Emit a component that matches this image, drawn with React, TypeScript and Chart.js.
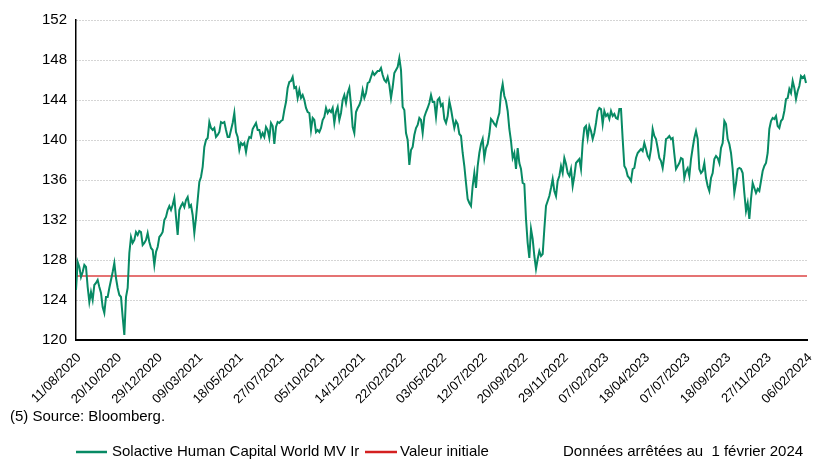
import React, { useEffect, useRef } from "react";
import { Chart, registerables } from "chart.js";

Chart.register(...registerables);

// X-axis tick labels (one every 50 trading days)
const tickDates = [
  "11/08/2020", "20/10/2020", "29/12/2020", "09/03/2021", "18/05/2021",
  "27/07/2021", "05/10/2021", "14/12/2021", "22/02/2022", "03/05/2022",
  "12/07/2022", "20/09/2022", "29/11/2022", "07/02/2023", "18/04/2023",
  "07/07/2023", "18/09/2023", "27/11/2023", "06/02/2024",
];
const TICK_INTERVAL = 50; // trading days between labels
const SAMPLE_STEP = 2.052; // trading days between the sampled values below

const yTicks = { min: 120, max: 152, step: 4 };
const INITIAL_VALUE = 126.4;

// Index level, sampled regularly along the axis
const values2020 = [
  125.0, 127.8, 127.3, 126.3, 126.8, 127.5, 127.3, 125.3, 123.8, 124.8,
  124.0, 125.5, 125.7, 126.0, 125.3, 124.7, 123.3, 122.7, 124.3, 124.3,
  125.2, 126.0, 126.8, 127.7, 126.2, 125.2, 124.5, 124.3, 122.3, 120.5,
  124.3, 125.2, 128.7, 130.3, 129.7, 130.0, 130.8, 130.5, 130.9, 130.8,
  129.5, 129.7, 130.0, 130.7, 129.8, 129.2, 129.0, 127.5, 128.8, 129.3,
  130.3, 130.5, 130.8, 132.0, 132.3, 133.0, 133.4, 133.0, 133.5, 134.2,
  132.3, 130.5, 133.0, 133.4, 133.7, 133.3, 134.0, 134.3, 133.3, 133.5,
  132.5, 130.7, 132.2,
];
const values2021a = [
  134.0, 135.8, 136.3, 137.3, 139.3, 140.0, 140.2, 141.8, 141.2, 141.0,
  141.2, 140.3, 140.5, 140.8, 141.8, 141.7, 141.8, 141.0, 140.3, 140.3,
  141.0, 141.7, 142.7, 140.8, 140.3, 139.0, 139.7, 139.5, 139.7, 138.8,
  139.8, 140.3, 140.2, 141.1, 141.4, 141.7, 141.0, 141.0, 140.3, 140.7,
  140.3, 141.3, 141.0, 140.2, 141.7, 141.4, 139.6, 141.3, 141.8, 141.7,
  141.9, 142.0, 143.0, 143.8, 145.2, 145.8, 145.9, 146.3, 145.2, 145.3,
  144.2, 145.0, 144.2, 144.5, 144.0, 143.2, 142.8, 142.7, 141.0, 142.2,
  142.0, 140.8, 141.0,
];
const values2021b = [
  140.8, 141.2, 142.0, 142.3, 143.2, 142.7, 143.0, 142.8, 143.2, 141.7,
  142.8, 143.3, 142.0, 142.7, 144.0, 144.5, 143.7, 144.7, 145.2, 143.5,
  141.3, 140.7, 142.8, 143.2, 143.5, 144.0, 145.0, 144.2, 144.7, 145.7,
  145.8, 146.3, 146.8, 146.5, 146.7, 146.9, 146.9, 147.2, 146.5, 146.0,
  145.8, 146.3, 145.5, 144.2, 145.3, 146.7, 147.0, 147.3, 148.2, 147.0,
  143.3, 143.0, 140.7, 140.0, 137.5, 139.0, 139.3, 140.5, 141.2, 141.5,
  142.2, 142.0, 140.7, 142.3, 142.8, 143.2, 143.7, 144.5, 143.8, 143.8,
  142.3, 144.0, 144.2,
];
const values2022 = [
  143.4, 143.6, 142.1, 141.7, 142.4, 143.9, 143.1, 142.1, 141.2, 141.9,
  141.6, 140.6, 140.4, 138.7, 137.4, 135.7, 134.1, 133.7, 133.4, 135.4,
  136.7, 135.2, 137.4, 138.7, 139.6, 140.1, 138.2, 139.2, 139.6, 140.6,
  142.1, 141.9, 141.6, 141.4, 142.1, 142.7, 144.7, 145.6, 144.4, 143.9,
  142.9, 141.1, 139.9, 138.2, 138.7, 137.1, 139.2, 137.7, 137.1, 135.7,
  135.6, 132.1, 129.7, 128.2, 131.1, 130.1, 128.4, 127.1, 128.1, 128.9,
  128.4, 128.6, 131.1, 133.4, 133.9, 134.4, 135.2, 136.1, 134.9, 134.4,
  135.9, 136.4, 137.4,
];
const values2023a = [
  136.7, 138.2, 137.6, 136.7, 136.4, 137.1, 135.4, 136.4, 137.7, 137.9,
  138.1, 137.1, 139.7, 141.2, 141.4, 140.2, 141.4, 140.9, 140.1, 140.7,
  141.7, 142.9, 143.2, 143.1, 141.6, 142.9, 142.4, 142.6, 142.1, 142.9,
  142.4, 142.6, 142.2, 142.1, 143.1, 143.1, 140.1, 137.4, 137.1, 136.4,
  136.2, 135.9, 137.1, 137.2, 138.2, 138.7, 138.9, 139.1, 138.9, 139.7,
  139.1, 138.4, 138.1, 139.1, 141.1, 140.4, 140.1, 139.2, 138.2, 137.9,
  137.2, 138.4, 140.1, 140.2, 140.4, 140.1, 140.2, 138.6, 137.1, 137.4,
  137.7, 138.2, 138.1, 136.2,
];
const values2023b = [
  136.9, 137.2, 136.4, 138.1, 139.2, 140.2, 140.9, 140.1, 137.1, 136.7,
  136.9, 137.7, 136.2, 135.4, 134.9, 136.2, 136.7, 138.1, 138.4, 138.2,
  137.7, 139.2, 139.7, 141.9, 141.6, 140.1, 139.6, 138.7, 137.1, 134.7,
  135.7, 137.1, 137.2, 137.1, 136.7, 134.7, 132.9, 133.7, 132.1, 134.1,
  135.7, 135.2, 134.7, 135.1, 134.9, 135.9, 136.9, 137.4, 137.7, 138.7,
  141.1, 141.9, 142.2, 142.1, 142.4, 141.4, 141.2, 141.9, 142.1, 142.9,
  144.1, 144.2, 145.1, 144.7, 145.9, 145.2, 144.1, 144.9, 145.4, 146.4,
  146.2, 146.4, 145.7,
];

const seriesLabel = "Solactive Human Capital World MV Ir";
const initialLabel = "Valeur initiale";
const sourceNote = "(5) Source: Bloomberg.";
const dateNote = "Données arrêtées au  1 février 2024";

const GREEN = "#078a64";
const RED_LINE = "#e57373";
const RED_LEGEND = "#d42020";
const FONT = "'Liberation Sans', Arial, sans-serif";

const legendPlugin = {
  id: "customLegend",
  afterDraw(chart: any) {
    const ctx = chart.ctx as CanvasRenderingContext2D;
    ctx.save();
    ctx.font = `15px ${FONT}`;
    ctx.fillStyle = "#000";
    ctx.textBaseline = "middle";
    ctx.textAlign = "left";
    ctx.fillText(sourceNote, 10, 417);
    const ly = 452;
    ctx.lineWidth = 2.5;
    ctx.strokeStyle = GREEN;
    ctx.beginPath();
    ctx.moveTo(76, ly);
    ctx.lineTo(107, ly);
    ctx.stroke();
    ctx.fillText(seriesLabel, 112, ly);
    ctx.strokeStyle = RED_LEGEND;
    ctx.beginPath();
    ctx.moveTo(365, ly);
    ctx.lineTo(397, ly);
    ctx.stroke();
    ctx.fillText(initialLabel, 400, ly);
    ctx.fillText(dateNote, 563, ly);
    ctx.restore();
  },
};

export default function App() {
  const ref = useRef<HTMLCanvasElement>(null);
  useEffect(() => {
    if (!ref.current) return;
    const allValues = [
      ...values2020, ...values2021a, ...values2021b,
      ...values2022, ...values2023a, ...values2023b,
    ];
    const seriesData = allValues.map((v, i) => ({ x: i * SAMPLE_STEP, y: v }));
    const maxX = (tickDates.length - 1) * TICK_INTERVAL;
    const chart = new Chart(ref.current, {
      type: "line",
      data: {
        datasets: [
          {
            label: seriesLabel,
            data: seriesData,
            borderColor: GREEN,
            borderWidth: 2,
            pointRadius: 0,
            tension: 0,
          },
          {
            label: initialLabel,
            data: [
              { x: 0, y: INITIAL_VALUE },
              { x: maxX, y: INITIAL_VALUE },
            ],
            borderColor: RED_LINE,
            borderWidth: 2,
            pointRadius: 0,
          },
        ],
      },
      options: {
        animation: false,
        responsive: false,
        layout: { padding: { top: 20, right: 9, left: 0, bottom: 0 } },
        plugins: { legend: { display: false }, tooltip: { enabled: false } },
        scales: {
          x: {
            type: "linear",
            min: 0,
            max: maxX,
            afterBuildTicks: (s: any) => {
              s.ticks = tickDates.map((_, i) => ({ value: i * TICK_INTERVAL }));
            },
            afterFit: (s: any) => {
              s.height = 119;
              s.paddingRight = 0;
              s.paddingLeft = 0;
            },
            ticks: {
              autoSkip: false,
              minRotation: 45,
              maxRotation: 45,
              padding: 10,
              labelOffset: 3,
              color: "#000",
              font: { family: FONT, size: 13 },
              callback: (v: any) => tickDates[Math.round(Number(v) / TICK_INTERVAL)] ?? "",
            },
            grid: { display: false, drawTicks: false },
            border: { color: "#000", width: 2 },
          },
          y: {
            min: yTicks.min,
            max: yTicks.max,
            afterFit: (s: any) => {
              s.width = 76;
            },
            ticks: {
              stepSize: yTicks.step,
              padding: 9,
              color: "#000",
              font: { family: FONT, size: 15 },
            },
            grid: { color: "#ababab", lineWidth: 1, drawTicks: false },
            border: { color: "#000", width: 1.5, dash: [1, 2] },
          },
        },
      },
      plugins: [legendPlugin],
    } as any);
    return () => chart.destroy();
  }, []);
  return (
    <div style={{ position: "fixed", left: 0, top: 0, width: 816, height: 459, background: "#fff" }}>
      <canvas ref={ref} width={816} height={459} style={{ width: 816, height: 459 }} />
    </div>
  );
}
